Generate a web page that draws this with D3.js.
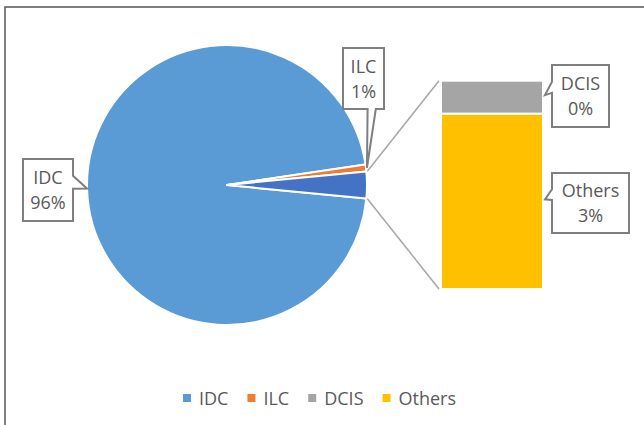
<!DOCTYPE html>
<html>
<head>
<meta charset="utf-8">
<script src="https://cdn.jsdelivr.net/npm/d3@7"></script>
<style>
  html, body { margin: 0; padding: 0; background: #fff; }
  svg { display: block; }
  text { font-family: "Open Sans", "Segoe UI", sans-serif; fill: #595959; }
</style>
</head>
<body>
<svg id="chart" width="644" height="425"></svg>
<script>
// Tumour types, share of cases (%)
const categories = ["IDC", "ILC", "DCIS", "Others"];
const values = [96.1, 0.8, 0.49, 2.61];
const labels = ["96%", "1%", "0%", "3%"];
const colors = ["#5B9BD5", "#ED7D31", "#A5A5A5", "#FFC000"];
const otherSliceColor = "#4472C4";

// first two go in the pie, the rest are gathered into one slice and expanded as a bar
const pieNames = categories.slice(0, 2);
const barNames = categories.slice(2);
const pieVals = values.slice(0, 2);
const barVals = values.slice(2);
const otherTotal = d3.sum(barVals);

const svg = d3.select("#chart");

// chart area border
svg.append("rect")
  .attr("x", 5).attr("y", 7).attr("width", 700).attr("height", 500)
  .attr("fill", "none").attr("stroke", "#555").attr("stroke-width", 1.5);

const cx = 227, cy = 185, r = 140;
const half = (otherTotal / 100) * Math.PI;  // half-angle of the combined slice
const start = Math.PI / 2 + half;

const pieData = pieVals.map((v, i) => ({ name: pieNames[i], value: v, color: colors[i] }))
  .concat([{ name: "Other", value: otherTotal, color: otherSliceColor }]);

const pie = d3.pie().sort(null).value(d => d.value)
  .startAngle(start).endAngle(start + 2 * Math.PI);
const arcs = pie(pieData);
const arc = d3.arc().innerRadius(0).outerRadius(r);

const g = svg.append("g").attr("transform", `translate(${cx},${cy})`);
g.selectAll("path").data(arcs).join("path")
  .attr("d", arc)
  .attr("fill", d => d.data.color)
  .attr("stroke", "#fff").attr("stroke-width", 2).attr("stroke-linejoin", "round");

// stacked bar for the combined slice
const barX = 441, barW = 102;
const y = d3.scaleLinear().domain([0, otherTotal]).range([289, 80.7]);
let acc = 0;
const barSegs = [];
// Others at the bottom, DCIS on top
for (let i = barVals.length - 1; i >= 0; i--) {
  barSegs.push({ name: barNames[i], v0: acc, v1: acc + barVals[i], color: colors[2 + i], label: labels[2 + i] });
  acc += barVals[i];
}
svg.selectAll("rect.bar").data(barSegs).join("rect")
  .attr("class", "bar")
  .attr("x", barX).attr("width", barW)
  .attr("y", d => y(d.v1)).attr("height", d => y(d.v0) - y(d.v1))
  .attr("fill", d => d.color)
  .attr("stroke", "#fff").attr("stroke-width", 2);

// connector lines from the combined slice to the bar
const otherArc = arcs[2];
const edge = a => [cx + Math.sin(a) * (r + 1), cy - Math.cos(a) * (r + 1)];
const p1 = edge(otherArc.startAngle);
const p2 = edge(otherArc.endAngle);
svg.append("line").attr("x1", p1[0]).attr("y1", p1[1]).attr("x2", barX - 2).attr("y2", y(otherTotal))
  .attr("stroke", "#A6A6A6").attr("stroke-width", 1.5);
svg.append("line").attr("x1", p2[0]).attr("y1", p2[1]).attr("x2", barX - 2).attr("y2", y(0))
  .attr("stroke", "#A6A6A6").attr("stroke-width", 1.5);

// callout label: box plus a pointer wedge on one side
function callout(box, side, tip, lines) {
  const [x0, y0, x1, y1] = box;
  let pts;
  if (side === "right") {
    const a = y0 + (y1 - y0) * 0.27, b = y0 + (y1 - y0) * 0.48;
    pts = [[x0, y0], [x1, y0], [x1, a], tip, [x1, b], [x1, y1], [x0, y1]];
  } else if (side === "left") {
    const a = y0 + (y1 - y0) * 0.27, b = y0 + (y1 - y0) * 0.45;
    pts = [[x0, y0], [x1, y0], [x1, y1], [x0, y1], [x0, b], tip, [x0, a]];
  } else { // bottom
    const a = x0 + (x1 - x0) * 0.6, b = x0 + (x1 - x0) * 0.8;
    pts = [[x0, y0], [x1, y0], [x1, y1], [b, y1], tip, [a, y1], [x0, y1]];
  }
  svg.append("path")
    .attr("d", "M" + pts.map(p => p.join(",")).join("L") + "Z")
    .attr("fill", "#fff").attr("stroke", "#7F7F7F").attr("stroke-width", 2)
    .attr("stroke-linejoin", "miter");
  const t = svg.append("text").attr("text-anchor", "middle").attr("font-size", 18);
  const mx = (x0 + x1) / 2, my = (y0 + y1) / 2;
  lines.forEach((s, i) => {
    t.append("tspan").attr("x", mx).attr("y", my - 6 + (i === 0 ? 0 : 25)).text(s);
  });
}

const mid = a => (a.startAngle + a.endAngle) / 2;
const tipAt = (a, rr) => [cx + Math.sin(mid(a)) * rr, cy - Math.cos(mid(a)) * rr];

callout([23, 159, 73, 221], "right", tipAt(arcs[0], r), [categories[0], labels[0]]);
callout([343, 48, 384, 109], "bottom", tipAt(arcs[1], r + 1), [categories[1], labels[1]]);
barSegs.forEach(d => {
  const ty = (y(d.v0) + y(d.v1)) / 2 - 2;
  const box = d.name === "DCIS" ? [552, 65, 609, 127] : [552, 173, 629, 233];
  callout(box, "left", [barX + barW + 2, ty], [d.name, d.label]);
});

// legend
const legend = svg.append("g");
let lx = 183;
const ly = 398;
categories.forEach((c, i) => {
  legend.append("rect").attr("x", lx).attr("y", ly - 4).attr("width", 8).attr("height", 8).attr("fill", colors[i]);
  const t = legend.append("text").attr("x", lx + 16).attr("y", ly + 6.5).attr("font-size", 18).text(c);
  lx += 16 + t.node().getComputedTextLength() + 19;
});
</script>
</body>
</html>
